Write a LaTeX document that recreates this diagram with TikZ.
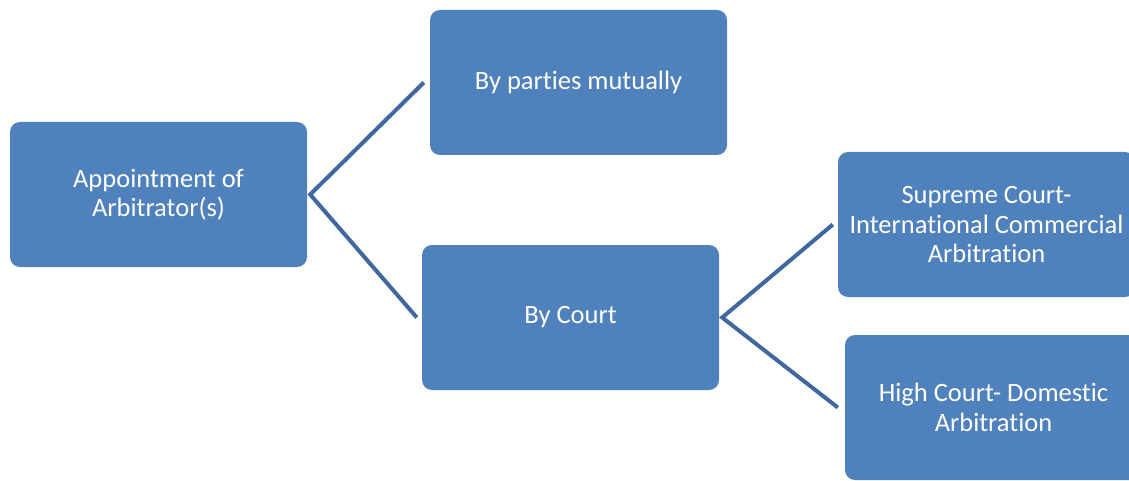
\documentclass[tikz,border=0pt]{standalone}
\usepackage{fontspec}
\setmainfont{Carlito}[Ligatures={NoCommon}]
\usetikzlibrary{calc}
\definecolor{boxblue}{RGB}{79,129,189}
\definecolor{lineblue}{RGB}{64,104,158}
\begin{document}
\begin{tikzpicture}[x=1pt,y=-1pt,
  box/.style={draw=none, fill=boxblue, rounded corners=10pt, minimum width=297pt, minimum height=145pt,
    text=white, align=center, font=\fontsize{26.5pt}{29.5pt}\selectfont, inner sep=0pt},
  conn/.style={draw=lineblue, line width=4pt}]
\clip (0,0) rectangle (1129,481);
\fill[white] (0,0) rectangle (1129,481);
\node[box] (app) at (158.5,194.5) {Appointment of\\Arbitrator(s)};
\node[box] (par) at (578.5,82.5) {By parties mutually};
\node[box] (crt) at (570.5,317.5) {By Court};
\node[box] (sup) at (986.5,224.5) {Supreme Court-\\International Commercial\\Arbitration};
\node[box] (hig) at (993.5,407.5) {High Court- Domestic\\Arbitration};
\coordinate (v1) at ($(app.east)+(3,0)$);
\coordinate (v2) at ($(crt.east)+(3,0)$);
\draw[conn] ($(par.west)+(-6,0)$) -- (v1) -- ($(crt.west)+(-5,0)$);
\draw[conn] ($(sup.west)+(-5,0)$) -- (v2) -- ($(hig.west)+(-7,0)$);
\end{tikzpicture}
\end{document}
